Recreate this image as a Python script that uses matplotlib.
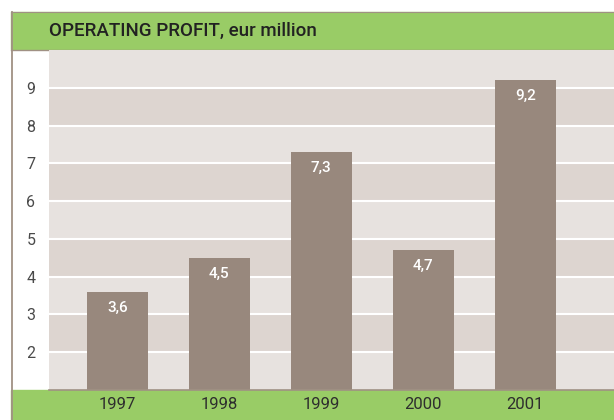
import matplotlib
matplotlib.use("Agg")
import matplotlib.pyplot as plt
from matplotlib.patches import Rectangle
from matplotlib.lines import Line2D

years = ["1997", "1998", "1999", "2000", "2001"]
profit = [3.6, 4.5, 7.3, 4.7, 9.2]
profit_labels = ["3,6", "4,5", "7,3", "4,7", "9,2"]
yticks = [2, 3, 4, 5, 6, 7, 8, 9]

green = "#99cc66"
bar_col = "#98887d"
light = "#e7e2df"
dark = "#ddd5d0"
edge = "#a09184"

plt.rcParams["font.family"] = ["Roboto", "DejaVu Sans"]

W, H = 614, 420
fig = plt.figure(figsize=(W / 100, H / 100), dpi=100)

# header and footer bands, drawn under the axes
fig.add_artist(Rectangle((11 / W, (H - 49) / H), 1 - 11 / W, 37 / H,
                         transform=fig.transFigure, color=green, zorder=-2))
fig.add_artist(Rectangle((11 / W, 0), 1 - 11 / W, 30 / H,
                         transform=fig.transFigure, color=green, zorder=-2))
fig.add_artist(Line2D([11.5 / W, 11.5 / W], [0, (H - 12) / H],
                      transform=fig.transFigure, color=edge, lw=1.3, zorder=-1))
fig.add_artist(Line2D([11 / W, 1], [(H - 12) / H, (H - 12) / H],
                      transform=fig.transFigure, color=edge, lw=0.8, zorder=-1))
fig.add_artist(Line2D([11 / W, 1], [(H - 49.5) / H, (H - 49.5) / H],
                      transform=fig.transFigure, color=edge, lw=1, zorder=-1))
fig.add_artist(Line2D([49 / W, 1], [30.5 / H, 30.5 / H],
                      transform=fig.transFigure, color=edge, lw=1.2, zorder=5))

fig.text(49 / W, (H - 31) / H, "OPERATING PROFIT, eur million", fontsize=13.5,
         fontweight="medium", color="#222222", va="center", ha="left")

ax = fig.add_axes([49 / W, 30 / H, (W - 49) / W, (390 - 50) / H])
ax.set_xlim(-0.67, 4.87)
ax.set_ylim(1, 10)

# alternating bands with white lines
for i in range(1, 10):
    ax.axhspan(i, i + 1, color=light if i % 2 == 1 else dark, lw=0, zorder=0)
for t in yticks:
    ax.axhline(t, color="white", lw=1.5, zorder=1)

x = list(range(len(years)))
ax.bar(x, profit, width=0.6, bottom=0, color=bar_col, zorder=2)
for xi, v, lab in zip(x, profit, profit_labels):
    ax.annotate(lab, (xi, v), xytext=(0, -11.5), textcoords="offset points",
                ha="center", va="center", color="white", fontsize=11,
                fontweight="medium", zorder=3)

ax.set_yticks(yticks)
ax.set_yticklabels([str(t) for t in yticks], color="#4a4a4a", fontsize=11.5,
                   ha="center")
ax.tick_params(axis="y", length=0, pad=13)
ax.set_xticks(x)
ax.set_xticklabels(years, color="#2e2e2e", fontsize=12)
ax.tick_params(axis="x", length=0, pad=5)
for s in ax.spines.values():
    s.set_visible(False)

fig.savefig("out.png", dpi=100)
